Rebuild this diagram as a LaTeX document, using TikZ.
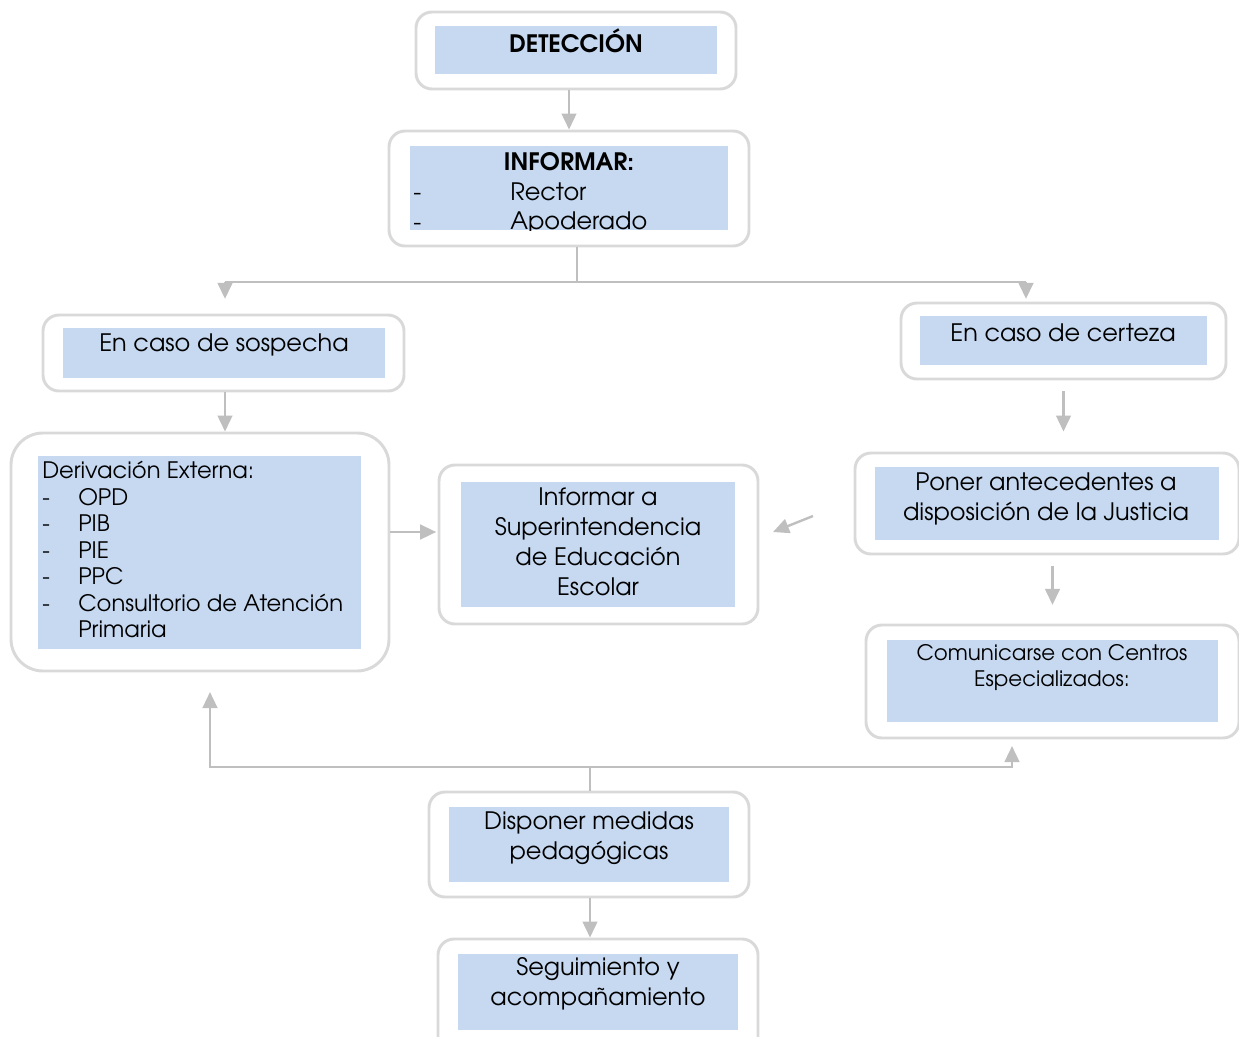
\documentclass[tikz,border=0pt]{standalone}
\usepackage{fontspec}
\setmainfont{TeX Gyre Adventor}
\usetikzlibrary{arrows.meta,positioning,calc,fit}
\definecolor{BoxBlue}{RGB}{198,217,241}
\definecolor{EdgeGray}{RGB}{217,217,217}
\definecolor{ArrowGray}{RGB}{191,191,191}
\newcommand{\itm}[1]{\makebox[27pt][l]{-}#1}

\begin{document}
\begin{tikzpicture}[x=0.75pt,y=-0.75pt,
    outer/.style={draw=EdgeGray,line width=2.2pt,rounded corners=12pt,inner sep=0pt,fill=white},
    inner/.style={fill=BoxBlue,inner sep=0pt},
    txt/.style={font=\fontsize{18}{22.5}\selectfont,align=center,inner sep=0pt},
    small/.style={font=\fontsize{16}{19.5}\selectfont,align=center,inner sep=0pt},
    head/.style={font=\fontsize{18}{22}\selectfont\bfseries,inner sep=0pt},
    conn/.style={draw=ArrowGray,line width=1.8pt},
    arrow/.style={conn,-{Triangle[length=12pt,width=11pt]}}]
  \useasboundingbox (0,0) rectangle (1239,1036);
  \clip (0,0) rectangle (1239,1036);

  % Boxes (outer frame, then blue fill)
  \node[outer,fit={(416,12) (736,89)}] (det) {};
  \node[inner,fit={(435,26) (717,74)}] (detf) {};
  \node[outer,fit={(389,131) (749,246)}] (inf) {};
  \node[inner,fit={(410,146) (728,230)}] (inff) {};
  \node[outer,fit={(43,315) (404,391)}] (sosp) {};
  \node[inner,fit={(63,328) (385,378)}] (sospf) {};
  \node[outer,fit={(901,303) (1226,379)}] (cert) {};
  \node[inner,fit={(920,316) (1207,365)}] (certf) {};
  \node[outer,rounded corners=24pt,fit={(11,433) (389,671)}] (deriv) {};
  \node[inner,fit={(38,456) (361,649)}] (derivf) {};
  \node[outer,fit={(439,465) (758,624)}] (sup) {};
  \node[inner,fit={(461,482) (735,607)}] (supf) {};
  \node[outer,fit={(855,453) (1239,554)}] (pon) {};
  \node[inner,fit={(875,467) (1219,540)}] (ponf) {};
  \node[outer,fit={(866,625) (1239,738)}] (com) {};
  \node[inner,fit={(887,640) (1218,722)}] (comf) {};
  \node[outer,fit={(429,792) (749,897)}] (disp) {};
  \node[inner,fit={(449,807) (729,882)}] (dispf) {};
  \node[outer,fit={(438,939) (758,1060)}] (seg) {};
  \node[inner,fit={(458,954) (738,1030)}] (segf) {};

  % Texts
  \node[head] (tdet) at (576,41) {DETECCIÓN};
  \node[head] (tinf) at (569,162) {INFORMAR:};
  \begin{scope}
    \clip (inff.north west) rectangle (inff.south east);
    \node[txt,anchor=west] (d1) at (413,197) {-};
    \node[txt,anchor=west] (trec) at (510,192) {Rector};
    \node[txt,anchor=west] (d2) at (413,227) {-};
    \node[txt,anchor=west] (tapo) at (510,223) {Apoderado};
  \end{scope}
  \node[txt] (tsosp) at (224,345) {En caso de sospecha};
  \node[txt] (tcert) at (1063,333) {En caso de certeza};
  \node[txt,font=\fontsize{17}{19.9}\selectfont,align=left,anchor=north west] (tder) at (42,461)
    {Derivación Externa:\\ \itm{OPD}\\ \itm{PIB}\\ \itm{PIE}\\ \itm{PPC}\\
     \itm{Consultorio de Atención}\\ \hspace*{27pt}Primaria};
  \node[txt] (tsup) at (598,542) {Informar a\\ Superintendencia\\ de Educación\\ Escolar};
  \node[txt] (tpon) at (1046,499) {Poner antecedentes a\\ disposición de la Justicia};
  \node[small] (tcom) at (1052,668) {Comunicarse con Centros\\ Especializados:};
  \node[txt] (tdisp) at (589,838) {Disponer medidas\\ pedagógicas};
  \node[txt] (tseg) at (598,984) {Seguimiento y\\ acompañamiento};

  % Connectors
  \coordinate (split) at (577,282);
  \coordinate (bl) at (225,282);
  \coordinate (br) at (1026,282);
  \draw[arrow] (inf.north |- det.south) -- (inf.north);
  \draw[conn] (split |- inf.south) -- (split);
  \draw[conn] (bl) -- (br);
  \draw[arrow,shorten >=11pt] (bl) -- (bl |- sosp.north);
  \draw[arrow,shorten >=2pt] (br) -- (br |- cert.north);
  \draw[arrow] (bl |- sosp.south) -- (bl |- deriv.north);
  \draw[arrow,shorten >=1pt] ([yshift=15pt]deriv.east) -- ([yshift=15pt]deriv.east -| sup.west);
  \draw[arrow,shorten <=8pt,shorten >=15pt] (cert.south) -- (cert.south |- pon.north);
  \coordinate (fa) at (813,516);
  \coordinate (fb) at (773,532);
  \draw[arrow] (fa) -- (fb);
  \draw[arrow,shorten <=8pt,shorten >=14pt] (com.north |- pon.south) -- (com.north);
  \coordinate (jn) at (590,767);
  \coordinate (ul) at (210,692);
  \coordinate (ur) at (1012,746);
  \draw[conn] (jn |- disp.north) -- (jn);
  \draw[arrow] (jn) -| (ul);
  \draw[arrow] (jn) -| (ur);
  \draw[arrow] (jn |- disp.south) -- (jn |- seg.north);
\end{tikzpicture}
\end{document}
